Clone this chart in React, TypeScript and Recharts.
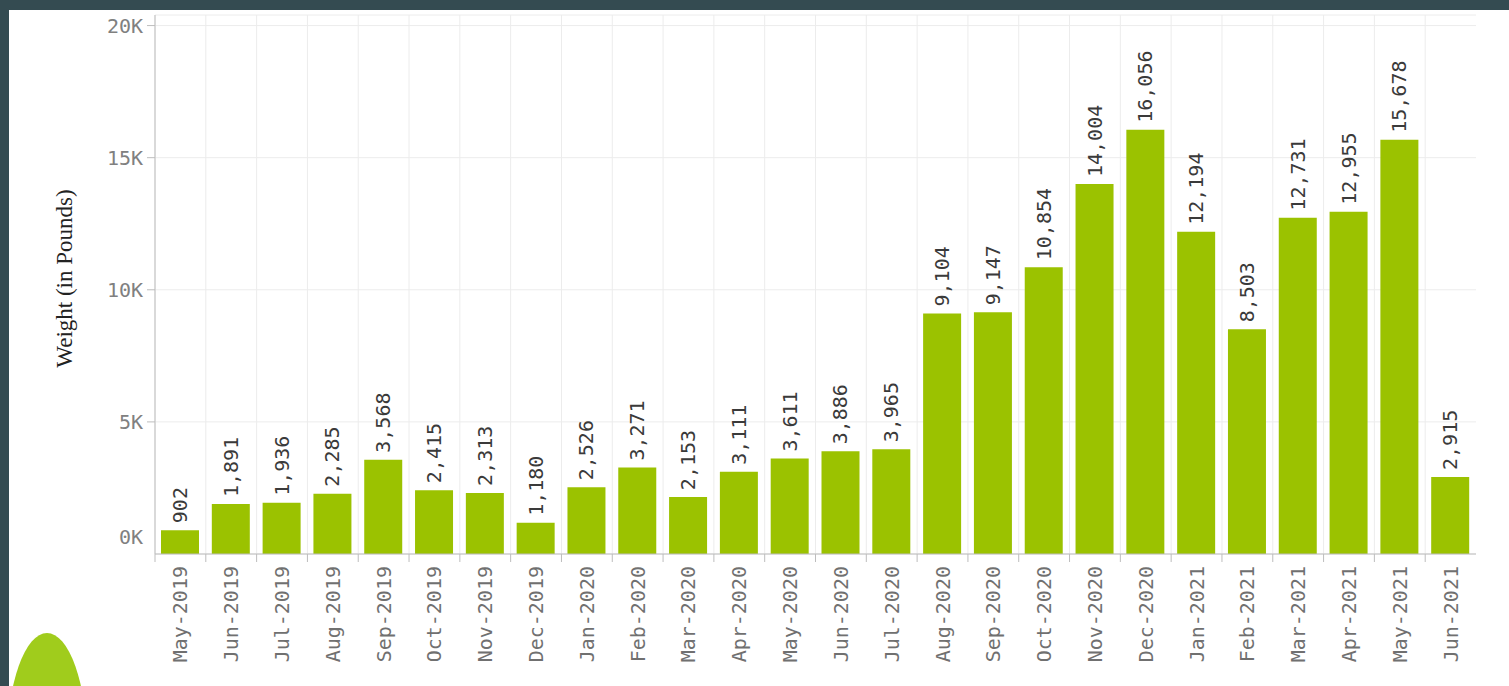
import React from 'react';
import { BarChart, Bar, XAxis, YAxis, CartesianGrid, LabelList } from 'recharts';

const months = [
  'May-2019', 'Jun-2019', 'Jul-2019', 'Aug-2019', 'Sep-2019', 'Oct-2019', 'Nov-2019', 'Dec-2019',
  'Jan-2020', 'Feb-2020', 'Mar-2020', 'Apr-2020', 'May-2020', 'Jun-2020', 'Jul-2020', 'Aug-2020',
  'Sep-2020', 'Oct-2020', 'Nov-2020', 'Dec-2020', 'Jan-2021', 'Feb-2021', 'Mar-2021', 'Apr-2021',
  'May-2021', 'Jun-2021',
];
const weights = [
  902, 1891, 1936, 2285, 3568, 2415, 2313, 1180,
  2526, 3271, 2153, 3111, 3611, 3886, 3965, 9104,
  9147, 10854, 14004, 16056, 12194, 8503, 12731, 12955,
  15678, 2915,
];
const yTicks = [0, 5000, 10000, 15000, 20000];
const yTitle = 'Weight (in Pounds)';

const data = months.map((m, i) => ({ month: m, weight: weights[i] }));

const MONO = '"DejaVu Sans Mono", monospace';
const BAR_COLOR = '#9bc200';

const XTick = (props: any) => {
  const { x, y, payload, width } = props;
  const band = width / months.length;
  const bx = x - band / 2;
  const axisY = y - 12;
  return (
    <g>
      <line x1={bx} x2={bx} y1={axisY} y2={axisY + 8} stroke="#bdbdbd" strokeWidth={1} />
      <text
        x={x}
        y={y}
        transform={`rotate(-90, ${x}, ${y})`}
        textAnchor="end"
        dominantBaseline="central"
        fill="#707070"
        fontSize={20}
        fontFamily={MONO}
      >
        {payload.value}
      </text>
    </g>
  );
};

const YTick = (props: any) => {
  const { x, y, payload } = props;
  const v = payload.value as number;
  const isZero = v === 0;
  return (
    <g>
      {!isZero && <line x1={x + 4} x2={x + 12} y1={y} y2={y} stroke="#bdbdbd" strokeWidth={1} />}
      <text
        x={x}
        y={isZero ? y - 17 : y}
        textAnchor="end"
        dominantBaseline="central"
        fill="#808080"
        fontSize={20}
        fontFamily={MONO}
      >
        {`${v / 1000}K`}
      </text>
    </g>
  );
};

const ValueLabel = (props: any) => {
  const { x, y, width, value } = props;
  const cx = x + width / 2;
  const ty = y - 7;
  return (
    <text
      x={cx}
      y={ty}
      transform={`rotate(-90, ${cx}, ${ty})`}
      textAnchor="start"
      dominantBaseline="central"
      fill="#3a3a3a"
      fontSize={20}
      fontFamily={MONO}
    >
      {Number(value).toLocaleString('en-US')}
    </text>
  );
};

const YTitle = (props: any) => {
  const vb = props.viewBox || { x: 0, y: 15, width: 155, height: 539 };
  const cx = vb.x + 64;
  const cy = vb.y + vb.height / 2 - 6;
  return (
    <text
      x={cx}
      y={cy}
      transform={`rotate(-90, ${cx}, ${cy})`}
      textAnchor="middle"
      dominantBaseline="central"
      fill="#222"
      fontSize={23}
      fontFamily='"Liberation Serif", serif'
    >
      {yTitle}
    </text>
  );
};

export default function App() {
  return (
    <div
      style={{
        position: 'absolute',
        left: 0,
        top: 0,
        width: 1509,
        height: 686,
        background: '#344b51',
        overflow: 'hidden',
      }}
    >
      <div
        style={{
          position: 'absolute',
          left: 9,
          top: 10,
          width: 1500,
          height: 676,
          background: '#ffffff',
          overflow: 'hidden',
        }}
      >
        <div
          style={{
            position: 'absolute',
            left: -2,
            top: 623,
            width: 80,
            height: 150,
            borderRadius: '50% 50% 50% 50% / 75% 75% 25% 25%',
            background: '#a0cc1c',
          }}
        />
        <div style={{ position: 'absolute', left: -9, top: -10 }}>
          <BarChart
            width={1509}
            height={686}
            data={data}
            margin={{ top: 15, right: 33, bottom: 12, left: 0 }}
          >
            <CartesianGrid
              stroke="#ececec"
              strokeWidth={1}
              verticalCoordinatesGenerator={({ offset }: any) =>
                months.map((_, i) => offset.left + (i * offset.width) / months.length)
              }
            />
            <XAxis
              dataKey="month"
              interval={0}
              axisLine={{ stroke: '#bdbdbd' }}
              tickLine={false}
              tickSize={8}
              tickMargin={4}
              height={120}
              tick={<XTick />}
            />
            <YAxis
              width={155}
              domain={[0, 20400]}
              ticks={yTicks}
              allowDataOverflow
              axisLine={{ stroke: '#bdbdbd' }}
              tickLine={false}
              tickSize={8}
              tickMargin={4}
              tick={<YTick />}
              label={{ content: YTitle }}
            />
            <Bar dataKey="weight" fill={BAR_COLOR} barSize={38} isAnimationActive={false}>
              <LabelList dataKey="weight" content={<ValueLabel />} />
            </Bar>
          </BarChart>
        </div>
      </div>
    </div>
  );
}
